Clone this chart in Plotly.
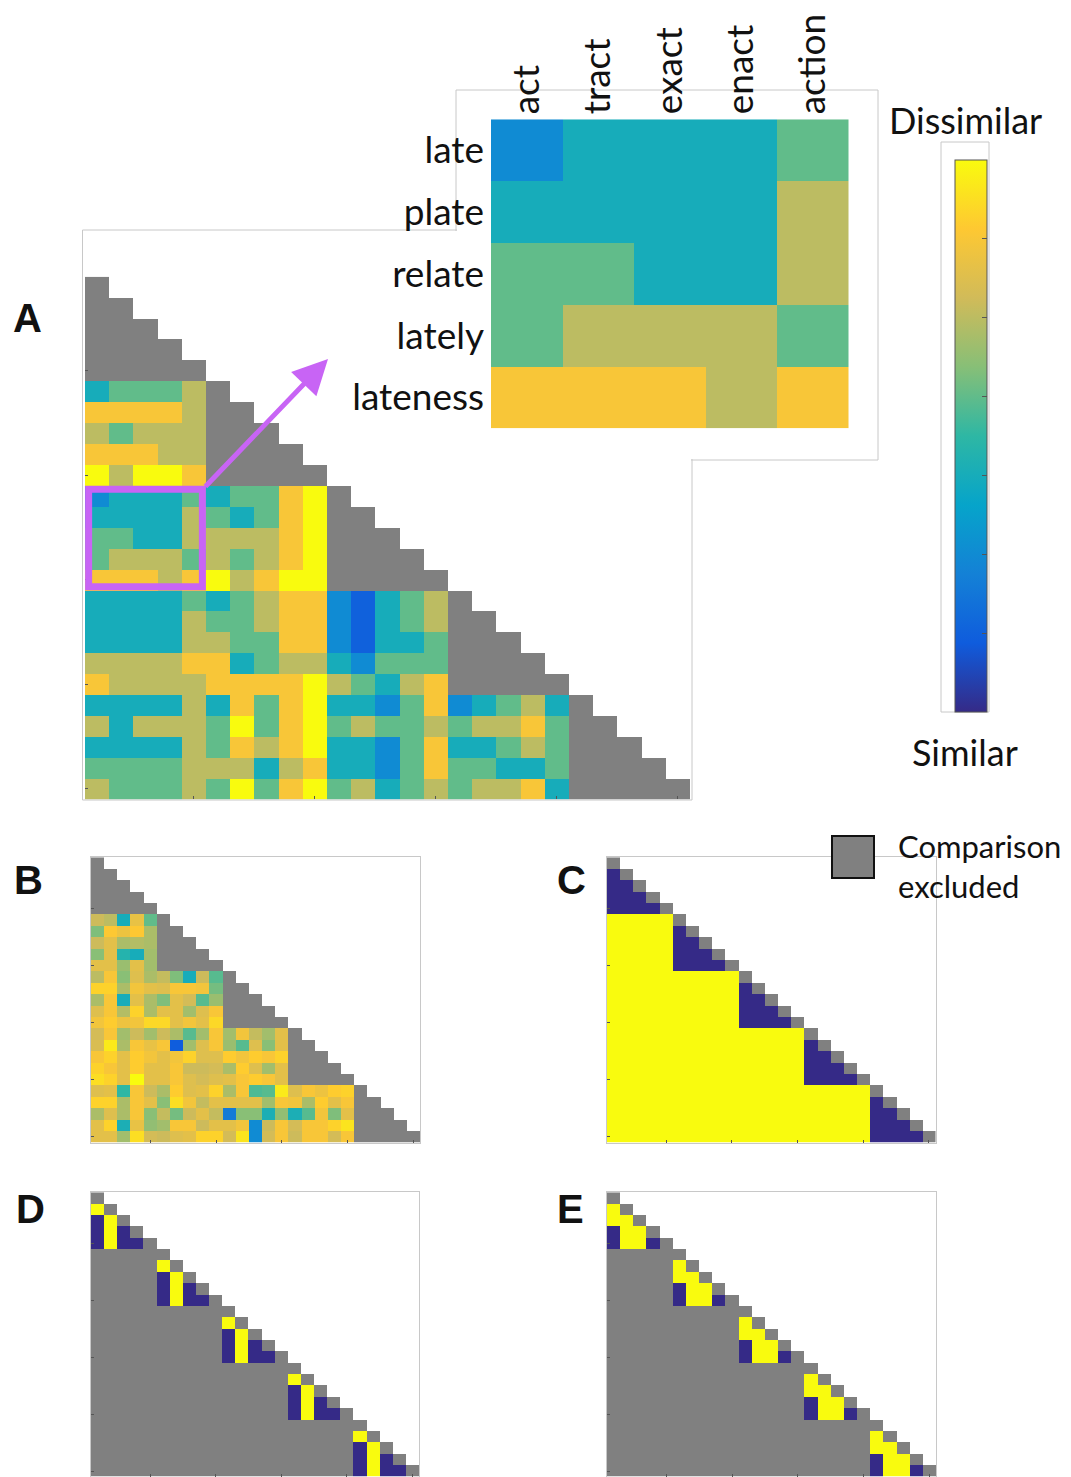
import plotly.graph_objects as go

W, H = 1071, 1477
FONT = "Lato"
TEXT = "#111111"
FRAME = "#c8c8c8"
GREY = "#808080"
PURPLE = "#c864f5"

# parula-style colour scale
PARULA = ["#352a87", "#0f5cdd", "#1481d6", "#06a4ca", "#2eb7a4",
          "#87bf77", "#d1bb59", "#fec832", "#f9fb0e"]
parula = [[i / (len(PARULA) - 1), c] for i, c in enumerate(PARULA)]

N = 25          # words in the stimulus set
GROUP = 5       # words per group

row_words = ["late", "plate", "relate", "lately", "lateness"]
col_words = ["act", "tract", "exact", "enact", "action"]

# Panel A: rated dissimilarity (1 = similar ... 7 = dissimilar) for the
# between-group pairs; entry k lists row 5+k, columns 0.. up to its group start
ratings_a = [
    [3, 4, 4, 4, 5],
    [6, 6, 6, 6, 5],
    [5, 4, 5, 5, 5],
    [6, 6, 6, 5, 5],
    [7, 5, 7, 7, 6],
    [2, 3, 3, 3, 4, 3, 4, 4, 6, 7],
    [3, 3, 3, 3, 5, 4, 3, 4, 6, 7],
    [4, 4, 3, 3, 5, 5, 5, 5, 6, 7],
    [4, 5, 5, 5, 4, 5, 4, 5, 6, 7],
    [6, 6, 6, 5, 6, 7, 5, 6, 7, 7],
    [3, 3, 3, 3, 4, 3, 4, 5, 6, 6, 2, 1, 3, 4, 5],
    [3, 3, 3, 3, 5, 4, 4, 5, 6, 6, 2, 1, 3, 4, 5],
    [3, 3, 3, 3, 5, 5, 4, 4, 6, 6, 2, 1, 3, 3, 4],
    [5, 5, 5, 5, 6, 6, 3, 4, 5, 5, 3, 2, 4, 4, 4],
    [6, 5, 5, 5, 5, 6, 6, 6, 6, 7, 5, 4, 3, 5, 6],
    [3, 3, 3, 3, 5, 3, 6, 4, 6, 7, 3, 3, 2, 4, 6, 2, 3, 4, 5, 3],
    [5, 3, 5, 5, 5, 4, 7, 4, 6, 7, 4, 5, 4, 4, 5, 4, 5, 5, 6, 4],
    [3, 3, 3, 3, 5, 4, 6, 5, 6, 7, 3, 3, 2, 4, 6, 3, 3, 4, 5, 4],
    [4, 4, 4, 4, 5, 5, 5, 3, 5, 6, 3, 3, 2, 4, 6, 4, 4, 3, 3, 4],
    [5, 4, 4, 4, 5, 4, 7, 4, 6, 7, 4, 5, 3, 4, 5, 4, 5, 5, 6, 3],
]

# Panel B: averaged dissimilarity, same layout as panel A
ratings_b = [
    [5.2, 5.0, 3.0, 5.7, 4.0],
    [4.3, 6.1, 5.8, 6.1, 4.8],
    [5.2, 5.6, 4.8, 4.9, 4.8],
    [4.4, 5.6, 3.3, 3.0, 4.7],
    [5.6, 5.6, 4.6, 5.6, 4.7],
    [5.0, 6.0, 4.4, 5.5, 4.8, 5.1, 4.3, 3.0, 5.2, 3.9],
    [6.3, 6.3, 4.8, 5.9, 5.6, 5.5, 6.0, 6.0, 5.9, 4.2],
    [4.8, 6.0, 3.0, 5.6, 4.8, 4.3, 5.6, 5.3, 3.9, 4.6],
    [5.5, 6.0, 4.9, 6.3, 4.8, 5.6, 5.6, 4.7, 5.5, 6.0],
    [5.9, 6.2, 5.8, 5.9, 6.4, 6.4, 5.6, 5.9, 5.6, 6.4],
    [5.3, 6.0, 4.7, 5.2, 4.7, 5.2, 4.8, 3.9, 4.7, 6.0, 4.7, 5.9, 5.1, 4.7, 5.6],
    [5.4, 6.7, 4.8, 6.0, 5.7, 6.0, 0.9, 4.7, 5.5, 6.0, 4.6, 3.9, 5.5, 4.4, 5.6],
    [6.0, 6.3, 5.6, 6.2, 5.9, 5.6, 5.9, 6.3, 5.5, 5.5, 6.2, 5.9, 6.2, 6.0, 6.3],
    [6.3, 6.0, 5.6, 6.2, 5.6, 5.6, 6.0, 5.2, 5.2, 5.3, 4.8, 6.2, 5.5, 4.7, 5.6],
    [6.5, 6.3, 5.6, 7.0, 5.6, 5.6, 6.0, 5.5, 5.3, 5.5, 5.6, 6.0, 6.2, 6.0, 5.6],
    [5.5, 5.6, 3.5, 6.0, 5.2, 4.8, 6.2, 5.5, 5.6, 6.3, 4.8, 6.0, 3.8, 3.9, 6.7,
     5.5, 6.0, 5.8, 6.2, 6.3],
    [6.3, 6.3, 4.8, 6.0, 5.6, 4.4, 6.5, 5.9, 5.1, 5.6, 5.6, 5.6, 5.6, 4.7, 6.0,
     5.9, 4.8, 6.2, 5.6, 6.0],
    [4.8, 5.5, 4.8, 6.0, 4.4, 5.1, 4.2, 5.2, 5.6, 5.1, 1.6, 4.4, 4.4, 3.1, 4.5,
     3.1, 3.9, 5.9, 4.3, 5.6],
    [5.6, 6.3, 3.1, 5.7, 4.5, 4.7, 6.0, 6.0, 5.2, 5.6, 5.6, 5.9, 2.0, 5.2, 6.0,
     5.3, 6.0, 6.0, 6.3, 6.6],
    [5.6, 5.6, 4.7, 6.5, 5.3, 5.2, 5.5, 5.6, 6.3, 6.3, 5.3, 6.6, 2.0, 5.3, 6.0,
     5.2, 6.0, 6.0, 5.3, 6.0],
]

# Panel C: binary model, 0 within a group, 1 between groups
model_c_within = 0
model_c_between = 1

# Panels D and E: within-group models (lower triangle of one 5x5 group);
# row i lists columns 0..i-1
model_d = [[1], [0, 1], [0, 1, 0], [0, 1, 0, 0]]
model_e = [[1], [1, 1], [0, 1, 1], [0, 1, 1, 0]]

TICKS = [4, 9, 14, 19, 24]


def px(x):
    return x / W


def py(y):
    return 1 - y / H


def empty():
    return [[None] * N for _ in range(N)]


def between_matrix(rows):
    z = empty()
    for k, vals in enumerate(rows):
        for c, v in enumerate(vals):
            z[GROUP + k][c] = v
    return z


def within_mask():
    m = empty()
    for r in range(N):
        g0 = (r // GROUP) * GROUP
        for c in range(g0, r + 1):
            m[r][c] = 1
    return m


def diagonal_mask():
    m = empty()
    for r in range(N):
        m[r][r] = 1
    return m


def between_excluded():
    m = empty()
    for r in range(N):
        g0 = (r // GROUP) * GROUP
        for c in range(0, g0):
            m[r][c] = 1
        m[r][r] = 1
    return m


def model_c_matrix():
    z = empty()
    for r in range(N):
        for c in range(r):
            z[r][c] = model_c_within if r // GROUP == c // GROUP else model_c_between
    return z


def within_model(pattern):
    z = empty()
    for g in range(0, N, GROUP):
        for i, vals in enumerate(pattern, start=1):
            for j, v in enumerate(vals):
                z[g + i][g + j] = v
    return z


fig = go.Figure()


def add_heat(z, axis, coloraxis=None, grey=False):
    kw = dict(z=z, xaxis="x" + axis, yaxis="y" + axis, hoverinfo="skip",
              xgap=0, ygap=0)
    if grey:
        kw.update(colorscale=[[0, GREY], [1, GREY]], showscale=False, zmin=0, zmax=1)
    else:
        kw.update(coloraxis=coloraxis)
    fig.add_trace(go.Heatmap(**kw))


# panel A
add_heat(between_matrix(ratings_a), "", "coloraxis")
add_heat(within_mask(), "", grey=True)
# inset (rows 10-14, columns 0-4 of panel A)
inset = [ratings_a[5 + i][:5] for i in range(5)]
fig.add_trace(go.Heatmap(z=inset, x=col_words, y=row_words, xaxis="x2", yaxis="y2",
                         coloraxis="coloraxis", hoverinfo="skip"))
# panel B
add_heat(between_matrix(ratings_b), "3", "coloraxis")
add_heat(within_mask(), "3", grey=True)
# panel C
add_heat(model_c_matrix(), "4", "coloraxis2")
add_heat(diagonal_mask(), "4", grey=True)
# panel D
add_heat(within_model(model_d), "5", "coloraxis2")
add_heat(between_excluded(), "5", grey=True)
# panel E
add_heat(within_model(model_e), "6", "coloraxis2")
add_heat(between_excluded(), "6", grey=True)


def mat_axes(x0, x1, y0, y1, framed):
    common = dict(showgrid=False, zeroline=False, showticklabels=False,
                  ticks="inside", ticklen=3, tickwidth=1, tickcolor="#555555",
                  tickvals=TICKS)
    if framed:
        common.update(showline=True, mirror=True, linecolor=FRAME, linewidth=1)
    xa = dict(domain=[px(x0), px(x1)], range=[-0.5, N - 0.5], **common)
    ya = dict(domain=[py(y1), py(y0)], range=[N - 0.5, -0.5], **common)
    return xa, ya


layout_axes = {}
for key, box, framed in [
    ("", (85, 690, 276.7, 799.2), False),
    ("3", (91, 420, 857.3, 1142.7), True),
    ("4", (607, 935.5, 857.3, 1142.7), True),
    ("5", (91, 419, 1192.3, 1476.7), True),
    ("6", (607, 936, 1192.3, 1476.7), True),
]:
    xa, ya = mat_axes(*box, framed)
    layout_axes["xaxis" + key] = dict(xa, anchor="y" + key)
    layout_axes["yaxis" + key] = dict(ya, anchor="x" + key)

layout_axes["xaxis2"] = dict(domain=[px(491), px(848.5)], anchor="y2", side="top",
                             showgrid=False, zeroline=False, ticks="", tickangle=-90,
                             tickfont=dict(family=FONT, size=37, color=TEXT),
                             ticklabelstandoff=4)
layout_axes["yaxis2"] = dict(domain=[py(428.3), py(119.3)], anchor="x2",
                             autorange="reversed", showgrid=False, zeroline=False,
                             ticks="", tickfont=dict(family=FONT, size=37, color=TEXT),
                             ticklabelstandoff=6)

# outline of panel A joined with the magnified inset: both outlines first,
# then slightly smaller white fills hide the lines inside the union
PANEL_A = (82.5, 692, 230, 800)
INSET = (456, 878, 90, 460)
shapes = []
for x0, x1, y0, y1 in (PANEL_A, INSET):
    shapes.append(dict(type="rect", xref="paper", yref="paper", x0=px(x0), x1=px(x1),
                       y0=py(y1), y1=py(y0), line=dict(color=FRAME, width=1),
                       layer="below"))
for x0, x1, y0, y1 in (PANEL_A, INSET):
    shapes.append(dict(type="rect", xref="paper", yref="paper", x0=px(x0 + 1),
                       x1=px(x1 - 1), y0=py(y1 - 1), y1=py(y0 + 1),
                       fillcolor="white", line=dict(width=0), layer="below"))

shapes += [
    # box around the colour bar
    dict(type="rect", xref="paper", yref="paper", x0=px(941), x1=px(989),
         y0=py(712), y1=py(142), line=dict(color=FRAME, width=1), layer="below"),
    # highlighted block in panel A
    dict(type="rect", xref="x", yref="y", x0=-0.35, x1=4.35, y0=9.67, y1=14.33,
         line=dict(color=PURPLE, width=7), layer="above"),
    # legend swatch for excluded comparisons
    dict(type="rect", xref="paper", yref="paper", x0=px(832), x1=px(874),
         y0=py(878), y1=py(836), fillcolor=GREY, line=dict(color="#111111", width=2),
         layer="above"),
]

annotations = []
for letter, x, y in [("A", 27, 318), ("B", 28, 880), ("C", 571, 880),
                     ("D", 30, 1209), ("E", 570, 1209)]:
    annotations.append(dict(text="<b>%s</b>" % letter, x=px(x), y=py(y),
                            xref="paper", yref="paper",
                            showarrow=False, xanchor="center", yanchor="middle",
                            font=dict(family="Liberation Sans", size=40, color=TEXT)))

for txt, x, y in [("Dissimilar", 965, 120), ("Similar", 965, 752)]:
    annotations.append(dict(text=txt, x=px(x), y=py(y), xref="paper", yref="paper",
                            showarrow=False, xanchor="center", yanchor="middle",
                            font=dict(family=FONT, size=36, color=TEXT)))

for txt, y in [("Comparison", 846), ("excluded", 886)]:
    annotations.append(dict(text=txt, x=px(896), y=py(y), xref="paper", yref="paper",
                            showarrow=False, xanchor="left", yanchor="middle",
                            font=dict(family=FONT, size=31, color=TEXT)))

# arrow from the highlighted block towards the inset
annotations.append(dict(text="", x=px(328), y=py(359), xref="paper", yref="paper",
                        showarrow=True, ax=-124, ay=129, arrowhead=2, arrowsize=1.4,
                        arrowwidth=5, arrowcolor=PURPLE, standoff=0))

fig.update_layout(
    width=W, height=H, margin=dict(l=0, r=0, t=0, b=0),
    paper_bgcolor="white", plot_bgcolor="rgba(0,0,0,0)",
    showlegend=False,
    coloraxis=dict(colorscale=parula, cmin=0, cmax=7,
                   colorbar=dict(x=px(955), xanchor="left", xref="paper",
                                 y=py(436), yanchor="middle",
                                 thickness=32, thicknessmode="pixels",
                                 len=552, lenmode="pixels",
                                 xpad=0, ypad=0, outlinewidth=1, outlinecolor="#555555",
                                 tickvals=[1, 2, 3, 4, 5, 6], ticks="inside",
                                 ticklen=5, tickcolor="#555555",
                                 showticklabels=False, borderwidth=0)),
    coloraxis2=dict(colorscale=parula, cmin=0, cmax=1, showscale=False),
    shapes=shapes,
    annotations=annotations,
    **layout_axes,
)

fig.write_html("out.html")
